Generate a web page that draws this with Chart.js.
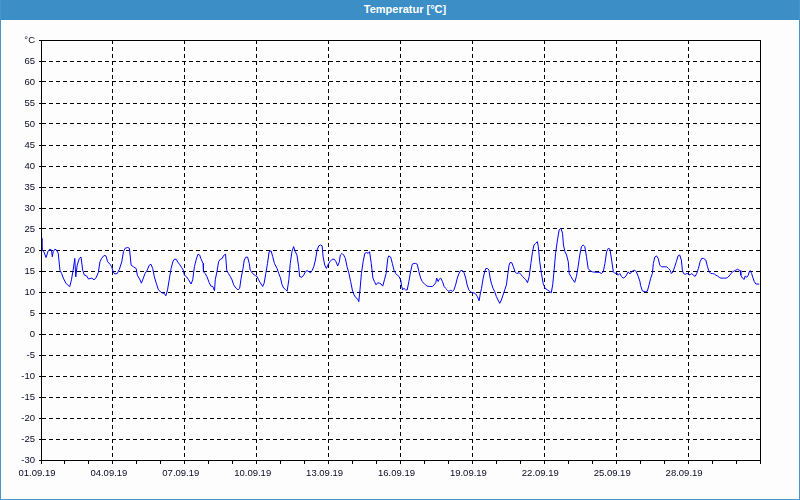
<!DOCTYPE html>
<html>
<head>
<meta charset="utf-8">
<script src="https://cdn.jsdelivr.net/npm/chart.js@4"></script>
<style>
  html, body { margin: 0; padding: 0; background: #fff; }
  #frame {
    position: absolute; left: 0; top: 0; width: 798px; height: 499px;
    border: 1px solid #4b93c9; border-top: none; background: #fcfdfc;
  }
  #titlebar {
    height: 20px; background: #3c8fc6; color: #fff;
    font: bold 11px "Liberation Sans", sans-serif; line-height: 18px;
    text-align: center; padding-left: 10px;
  }
  #wrap { position: relative; width: 798px; height: 479px; }
</style>
</head>
<body>
<div id="frame">
  <div id="titlebar">Temperatur [°C]</div>
  <div id="wrap"><canvas id="chart"></canvas></div>
</div>
<script>
// tick labels on the time axis (every 3 days, day 0 = 01.09.19)
const dateLabels = ["01.09.19", "04.09.19", "07.09.19", "10.09.19", "13.09.19",
  "16.09.19", "19.09.19", "22.09.19", "25.09.19", "28.09.19"];

// sample position in days since 01.09.19 00:00
const sampleDay = [
  0.00, 0.04, 0.12, 0.21, 0.30, 0.37, 0.44, 0.47, 0.51, 0.58, 0.65, 0.72, 0.79, 0.86, 0.93,
  1.04, 1.14, 1.20, 1.27, 1.34, 1.41, 1.45, 1.51, 1.60, 1.67, 1.74, 1.81, 1.91, 1.98,
  2.12, 2.21, 2.29, 2.39, 2.46, 2.53, 2.63, 2.71, 2.78, 2.88, 2.95,
  3.01, 3.08, 3.18, 3.27, 3.37, 3.44, 3.51, 3.61, 3.69, 3.76, 3.86, 3.97,
  4.02, 4.13, 4.19, 4.27, 4.34, 4.43, 4.52, 4.59, 4.66, 4.73, 4.81, 4.90,
  5.04, 5.14, 5.21, 5.28, 5.36, 5.43, 5.50, 5.56, 5.64, 5.71, 5.78, 5.87, 5.94, 5.98,
  6.06, 6.16, 6.26, 6.33, 6.40, 6.47, 6.55, 6.62, 6.67, 6.76, 6.78, 6.85, 6.92,
  7.02, 7.09, 7.17, 7.24, 7.27, 7.34, 7.41, 7.48, 7.56, 7.62, 7.70, 7.75, 7.82, 7.90, 7.97,
  8.04, 8.14, 8.22, 8.29, 8.35, 8.43, 8.48, 8.55, 8.62, 8.69, 8.73, 8.83, 8.94,
  9.01, 9.08, 9.15, 9.25, 9.31, 9.38, 9.45, 9.52, 9.60, 9.67, 9.74, 9.85, 9.92, 9.99,
  10.06, 10.13, 10.20, 10.27, 10.34, 10.40, 10.47, 10.54, 10.61, 10.68, 10.75, 10.79, 10.89, 10.96,
  11.03, 11.10, 11.18, 11.25, 11.32, 11.38, 11.45, 11.52, 11.59, 11.66, 11.73, 11.77, 11.84, 11.91, 11.97,
  12.05, 12.15, 12.24, 12.31, 12.38, 12.45, 12.49, 12.56, 12.63, 12.70, 12.77, 12.85, 12.92, 12.99,
  13.06, 13.13, 13.22, 13.26, 13.31, 13.37, 13.44, 13.51, 13.58, 13.65, 13.71, 13.78, 13.85, 13.91, 13.98,
  14.05, 14.12, 14.19, 14.26, 14.33, 14.40, 14.47, 14.51, 14.59, 14.66, 14.73, 14.80, 14.87, 14.94,
  15.01, 15.05, 15.09, 15.14, 15.21, 15.28, 15.35, 15.42, 15.49, 15.56, 15.63, 15.70, 15.77, 15.84, 15.91, 15.97,
  16.04, 16.11, 16.22, 16.33, 16.40, 16.47, 16.51, 16.57, 16.61, 16.68, 16.75, 16.82, 16.88, 16.95,
  17.02, 17.09, 17.16, 17.23, 17.30, 17.37, 17.44, 17.51, 17.58, 17.65, 17.72, 17.78, 17.85, 17.92, 17.99,
  18.07, 18.14, 18.21, 18.28, 18.32, 18.38, 18.45, 18.51, 18.56, 18.63, 18.69, 18.74, 18.79, 18.86, 18.93,
  19.00, 19.07, 19.14, 19.21, 19.28, 19.35, 19.42, 19.48, 19.53, 19.57, 19.64, 19.71, 19.78, 19.85, 19.95,
  20.02, 20.09, 20.16, 20.23, 20.30, 20.37, 20.44, 20.51, 20.57, 20.64, 20.71, 20.75, 20.81, 20.88, 20.95,
  21.03, 21.13, 21.23, 21.29, 21.35, 21.41, 21.47, 21.55, 21.62, 21.69, 21.76, 21.80, 21.86, 21.93,
  22.00, 22.04, 22.11, 22.18, 22.27, 22.34, 22.41, 22.48, 22.55, 22.62, 22.69, 22.76, 22.83, 22.90,
  23.01, 23.15, 23.29, 23.39, 23.46, 23.53, 23.60, 23.67, 23.74, 23.81, 23.88, 23.95,
  24.02, 24.08, 24.15, 24.22, 24.29, 24.36, 24.43, 24.50, 24.57, 24.64, 24.71, 24.78, 24.84, 24.92, 24.99,
  25.02, 25.09, 25.16, 25.23, 25.30, 25.37, 25.44, 25.51, 25.55, 25.61, 25.68, 25.75, 25.82, 25.89,
  26.00, 26.11, 26.18, 26.25, 26.30, 26.37, 26.44, 26.51, 26.58, 26.65, 26.72, 26.76, 26.81, 26.88, 26.95,
  27.02, 27.08, 27.15, 27.22, 27.29, 27.36, 27.43, 27.50, 27.57, 27.64, 27.74, 27.81, 27.88, 27.95,
  28.02, 28.09, 28.16, 28.23, 28.30, 28.37, 28.48, 28.57, 28.64, 28.71, 28.78, 28.85, 28.92, 28.99,
  29.06, 29.13, 29.17, 29.20, 29.27, 29.34, 29.38, 29.45, 29.51, 29.55, 29.59, 29.65, 29.70, 29.76, 29.83, 29.97
];

// temperature in °C, one value per sample above
const temperature = [
  22.8, 20.0, 19.6, 18.2, 19.8, 20.2, 20.0, 18.4, 19.6, 20.2, 20.0, 19.2, 15.2, 14.4, 13.3,
  12.1, 11.5, 11.3, 12.9, 15.2, 18.0, 13.6, 16.4, 18.0, 18.3, 15.2, 14.0, 13.8, 13.1,
  13.3, 12.9, 13.3, 14.6, 17.2, 18.0, 18.7, 18.6, 17.2, 16.6, 16.0,
  14.8, 14.3, 14.4, 15.4, 17.2, 19.6, 20.4, 20.6, 20.4, 16.4, 16.0, 15.6,
  14.0, 12.9, 12.1, 13.3, 14.4, 15.2, 16.4, 16.6, 15.6, 13.6, 12.1, 10.5,
  9.8, 9.7, 9.1, 10.5, 13.3, 15.6, 17.2, 17.8, 17.8, 17.1, 16.6, 15.8, 15.2, 14.0,
  13.7, 12.9, 11.9, 12.9, 16.0, 17.6, 19.0, 18.8, 18.0, 16.8, 14.8, 14.4, 13.7,
  12.2, 11.4, 11.3, 10.3, 12.9, 14.8, 17.2, 17.8, 18.0, 18.7, 19.0, 15.2, 14.4, 13.7, 12.9,
  11.7, 10.9, 10.5, 10.9, 13.3, 15.6, 17.6, 18.3, 18.3, 16.8, 15.2, 14.4, 13.9,
  13.7, 12.9, 12.2, 11.3, 12.1, 14.4, 16.8, 19.6, 19.8, 18.4, 16.8, 15.6, 14.4, 13.4,
  11.7, 10.9, 10.6, 10.2, 12.9, 16.8, 19.6, 20.8, 19.6, 18.8, 16.0, 13.7, 13.5, 14.0,
  14.8, 15.1, 14.8, 14.6, 15.2, 16.0, 17.6, 20.0, 21.0, 21.2, 21.0, 18.4, 16.4, 15.6, 16.4,
  17.2, 17.8, 17.8, 17.2, 16.2, 17.2, 18.8, 19.2, 18.8, 18.0, 16.0, 14.4, 12.5, 10.5,
  9.3, 8.7, 8.3, 7.7, 10.5, 14.4, 17.2, 19.2, 19.4, 19.2, 19.6, 16.8, 13.3, 12.5, 11.7,
  12.2, 12.1, 11.9, 11.4, 12.9, 14.4, 18.0, 18.6, 18.3, 16.8, 15.2, 14.4, 14.0, 13.7,
  12.8, 11.3, 10.5, 10.9, 10.5, 10.5, 12.5, 14.8, 16.6, 16.8, 16.8, 16.6, 14.8, 13.3, 12.5, 12.1,
  11.7, 11.4, 11.3, 11.3, 11.7, 12.2, 13.3, 12.5, 13.0, 13.3, 12.5, 11.3, 10.9, 10.5,
  10.1, 10.5, 10.1, 10.5, 11.7, 13.3, 14.4, 15.1, 15.1, 14.6, 13.3, 11.7, 10.5, 10.1, 9.8,
  9.8, 9.5, 8.9, 7.9, 9.3, 10.9, 13.3, 14.8, 15.6, 15.6, 15.2, 13.3, 12.1, 10.9, 10.1,
  8.9, 8.1, 7.3, 8.1, 9.3, 10.5, 11.7, 14.4, 16.4, 17.0, 17.0, 16.0, 14.8, 14.4, 14.6,
  14.2, 13.7, 13.3, 12.9, 12.2, 13.7, 16.8, 19.6, 21.2, 21.6, 22.0, 20.8, 17.2, 14.4, 12.1,
  10.9, 10.5, 10.1, 9.8, 11.7, 15.2, 19.2, 22.4, 24.8, 25.2, 24.0, 21.2, 19.6, 18.8,
  17.2, 14.4, 13.7, 13.0, 12.3, 13.7, 16.0, 18.8, 20.8, 21.2, 20.8, 18.4, 15.6, 15.1,
  14.8, 14.7, 14.7, 14.4, 14.8, 16.8, 19.6, 20.4, 20.2, 17.6, 14.8, 14.4,
  14.6, 14.0, 14.4, 13.7, 13.3, 13.5, 14.0, 14.8, 14.3, 14.8, 15.1, 15.2, 14.8, 13.7, 12.5,
  11.5, 10.3, 10.1, 10.1, 10.2, 11.7, 13.3, 14.4, 16.8, 18.3, 18.6, 18.0, 16.4, 16.0,
  16.0, 16.0, 15.6, 15.2, 14.4, 14.8, 16.0, 17.2, 18.6, 18.8, 17.6, 15.2, 14.4, 14.2, 14.4,
  14.3, 14.0, 14.4, 14.0, 13.7, 14.4, 15.6, 17.2, 18.0, 18.0, 17.6, 16.0, 14.8, 14.4,
  14.4, 14.3, 14.0, 13.8, 13.5, 13.3, 13.3, 13.3, 13.4, 13.8, 14.3, 14.8, 15.0, 15.2,
  15.4, 15.2, 15.1, 14.0, 13.3, 13.0, 13.8, 13.5, 14.0, 14.8, 15.1, 14.4, 13.5, 12.5, 11.9, 11.9
];

const yMin = -30;
const yMax = 70;

// full black frame round the plot area
const frameBox = {
  id: "frameBox",
  afterDraw(chart) {
    const { ctx, chartArea } = chart;
    ctx.save();
    ctx.strokeStyle = "#000";
    ctx.lineWidth = 1;
    ctx.strokeRect(Math.round(chartArea.left) + 0.5, Math.round(chartArea.top) + 0.5,
      Math.round(chartArea.right - chartArea.left), Math.round(chartArea.bottom - chartArea.top));
    ctx.restore();
  },
};

const points = sampleDay.map((d, i) => ({ x: d, y: temperature[i] }));
const tickFont = { family: "'Liberation Sans', sans-serif", size: 9.5 };

new Chart(document.getElementById("chart"), {
  type: "line",
  data: {
    datasets: [
      {
        label: "Temperatur",
        data: points,
        borderColor: "#0000ff",
        borderWidth: 1,
        pointRadius: 0,
        tension: 0,
      },
    ],
  },
  options: {
    responsive: true,
    maintainAspectRatio: false,
    animation: false,
    layout: { padding: { top: 20, right: 39, left: 0, bottom: 0 } },
    plugins: { legend: { display: false }, tooltip: { enabled: false } },
    scales: {
      x: {
        type: "linear",
        min: 0,
        max: 30,
        afterFit: (scale) => { scale.height = 39; },
        ticks: {
          stepSize: 1,
          autoSkip: false,
          maxRotation: 0,
          color: "#0a0a28",
          font: tickFont,
          padding: 4,
          labelOffset: -4,
          callback: (v) => (v % 3 === 0 && v < 30 ? dateLabels[v / 3] : ""),
        },
        grid: {
          color: (c) => (c.tick && c.tick.value % 3 === 0 ? "#000" : "rgba(0,0,0,0)"),
          tickColor: "#000",
          tickLength: 4,
          tickBorderDash: [],
        },
        border: { color: "#000", dash: [4, 3] },
      },
      y: {
        min: yMin,
        max: yMax,
        afterFit: (scale) => { scale.width = 40; },
        ticks: {
          stepSize: 5,
          color: "#0a0a28",
          font: tickFont,
          padding: 4,
          callback: (v) => (v === yMax ? "°C" : v),
        },
        grid: { color: "#000", tickColor: "#000", tickLength: 2, tickBorderDash: [] },
        border: { color: "#000", dash: [4, 3] },
      },
    },
  },
  plugins: [frameBox],
});
</script>
</body>
</html>
